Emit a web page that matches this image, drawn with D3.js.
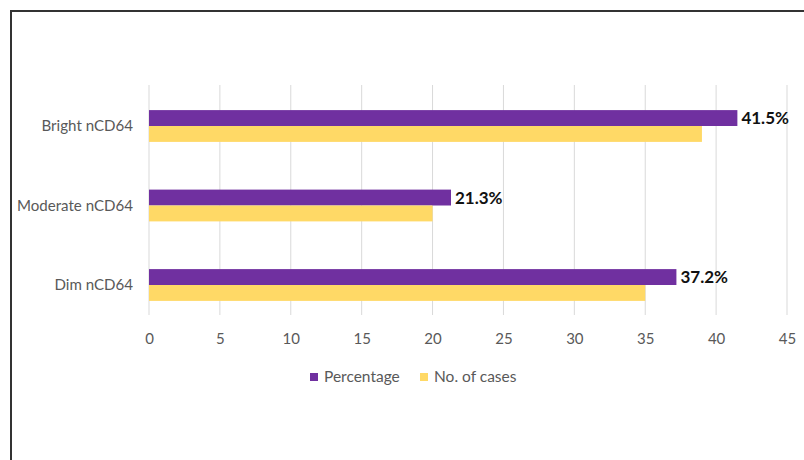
<!DOCTYPE html>
<html>
<head>
<meta charset="utf-8">
<script src="https://cdn.jsdelivr.net/npm/d3@7"></script>
<style>
  html, body { margin: 0; padding: 0; background: #fff; }
  svg { display: block; }
</style>
</head>
<body>
<svg id="chart" width="804" height="460"></svg>
<script>
const categories = ["Bright nCD64", "Moderate nCD64", "Dim nCD64"];
const percentage = [41.5, 21.3, 37.2];
const cases = [39, 20, 35];
const percentLabels = ["41.5%", "21.3%", "37.2%"];
const xTicks = [0, 5, 10, 15, 20, 25, 30, 35, 40, 45];
const seriesNames = ["Percentage", "No. of cases"];
const colors = ["#7030A0", "#FFD966"];

const svg = d3.select("#chart");
const font = "Lato, 'Open Sans', sans-serif";

// outer frame
svg.append("rect")
  .attr("x", 11).attr("y", 11)
  .attr("width", 820).attr("height", 480)
  .attr("fill", "none").attr("stroke", "#333").attr("stroke-width", 2);

const x = d3.scaleLinear().domain([0, 45]).range([149, 787]);
const y = d3.scaleBand().domain(categories).range([86.25, 324.75]).paddingInner(0.6).paddingOuter(0.3);
const sub = d3.scaleBand().domain([0, 1]).range([0, y.bandwidth()]);

const gridTop = 85, gridBottom = 315;

// gridlines
svg.append("g").selectAll("line").data(xTicks).join("line")
  .attr("x1", d => x(d)).attr("x2", d => x(d))
  .attr("y1", gridTop).attr("y2", gridBottom)
  .attr("stroke", "#d9d9d9").attr("stroke-width", 1);

// x axis labels
const xAxis = d3.axisBottom(x).tickValues(xTicks).tickSize(0).tickPadding(0);
const gx = svg.append("g").attr("transform", `translate(0, ${gridBottom + 24})`).call(xAxis);
gx.select(".domain").remove();
gx.selectAll("text")
  .attr("font-family", font).attr("font-size", 15).attr("fill", "#595959")
  .attr("dy", "0.35em").attr("y", 0);

// y axis labels
const yAxis = d3.axisLeft(y).tickSize(0).tickPadding(0);
const gy = svg.append("g").attr("transform", `translate(133, 0)`).call(yAxis);
gy.select(".domain").remove();
gy.selectAll("text")
  .attr("font-family", font).attr("font-size", 15.1).attr("fill", "#595959")
  .attr("x", 0).attr("dy", "0.35em");

// bars
const seriesData = [percentage, cases];
seriesData.forEach((vals, si) => {
  svg.append("g").selectAll("rect").data(vals).join("rect")
    .attr("x", x(0))
    .attr("y", (d, i) => y(categories[i]) + sub(si))
    .attr("width", d => x(d) - x(0))
    .attr("height", sub.bandwidth())
    .attr("fill", colors[si]);
});

// data labels on percentage bars
svg.append("g").selectAll("text").data(percentage).join("text")
  .attr("x", d => x(d) + 4)
  .attr("y", (d, i) => y(categories[i]) + sub(0) + sub.bandwidth() / 2)
  .attr("dy", "0.36em")
  .attr("font-family", font).attr("font-size", 17).attr("font-weight", "bold")
  .attr("fill", "#111")
  .text((d, i) => percentLabels[i]);

// legend
const legend = svg.append("g").attr("transform", "translate(310, 377)");
const legendX = [0, 110];
seriesNames.forEach((name, i) => {
  const g = legend.append("g").attr("transform", `translate(${legendX[i]}, 0)`);
  g.append("rect").attr("x", 0).attr("y", -4).attr("width", 8).attr("height", 8).attr("fill", colors[i]);
  g.append("text").attr("x", 14).attr("y", 0).attr("dy", "0.35em")
    .attr("font-family", font).attr("font-size", 15.5).attr("fill", "#595959")
    .text(name);
});
</script>
</body>
</html>
